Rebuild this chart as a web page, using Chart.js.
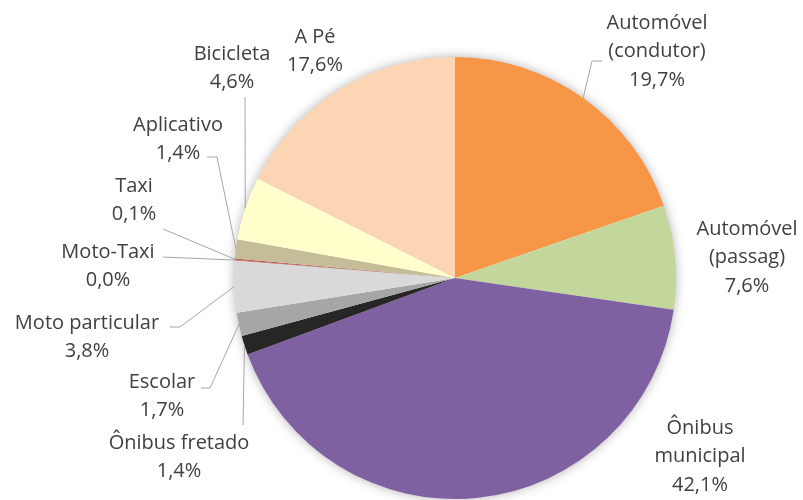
<!DOCTYPE html>
<html>
<head>
<meta charset="utf-8">
<script src="https://cdn.jsdelivr.net/npm/chart.js@4/dist/chart.umd.min.js"></script>
<style>
  body { margin: 0; background: #fff; }
  #chart { display: block; }
</style>
</head>
<body>
<canvas id="chart" width="803" height="500"></canvas>
<script>
const categories = ["Automóvel\n(condutor)", "Automóvel\n(passag)", "Ônibus\nmunicipal", "Ônibus fretado", "Escolar",
  "Moto particular", "Moto-Taxi", "Taxi", "Aplicativo", "Bicicleta", "A Pé"];
const shares = [19.7, 7.6, 42.1, 1.4, 1.7, 3.8, 0.03, 0.1, 1.4, 4.6, 17.6];
const colors = ["#F79646", "#C3D69B", "#7F60A0", "#262626", "#A6A6A6", "#D9D9D9",
  "#953735", "#C0504D", "#C4BD97", "#FFFFCC", "#FCD5B5"];

// label placement: centre x and first line y, plus leader line points near the label
const labelAt = [[657, 23], [747, 229], [700, 428], [179, 443], [162, 382], [87, 323],
  [108, 252], [134, 186], [178, 125], [232, 54], [315, 37]];
const leaders = [
  [[602, 61], [592, 61]], null, null,
  [[243, 425]],
  [[201, 388], [210, 388]],
  [[170, 327], [180, 327]],
  [[163, 257]],
  [[163, 229]],
  [[207, 157], [217, 157]],
  [[245, 97]],
  null
];

const fmt = v => v.toFixed(1).replace(".", ",") + "%";

const pieShadow = {
  id: "pieShadow",
  beforeDatasetsDraw(chart) {
    const arc = chart.getDatasetMeta(0).data[0];
    const ctx = chart.ctx;
    ctx.save();
    ctx.shadowColor = "rgba(0,0,0,0.35)";
    ctx.shadowBlur = 12;
    ctx.fillStyle = "#fff";
    ctx.beginPath();
    ctx.arc(arc.x, arc.y, arc.outerRadius - 1, 0, Math.PI * 2);
    ctx.fill();
    ctx.restore();
  }
};

const pieLabels = {
  id: "pieLabels",
  afterDatasetsDraw(chart) {
    const ctx = chart.ctx;
    const arcs = chart.getDatasetMeta(0).data;
    ctx.save();
    ctx.font = "20px 'Open Sans'";
    ctx.fillStyle = "#404040";
    ctx.textAlign = "center";
    ctx.textBaseline = "middle";
    arcs.forEach((arc, i) => {
      const lines = categories[i].split("\n").concat(fmt(shares[i]));
      const [lx, ly] = labelAt[i];
      lines.forEach((t, k) => ctx.fillText(t, lx, ly + k * 28.5));
      if (leaders[i]) {
        const mid = (arc.startAngle + arc.endAngle) / 2;
        const ex = arc.x + Math.cos(mid) * arc.outerRadius;
        const ey = arc.y + Math.sin(mid) * arc.outerRadius;
        ctx.strokeStyle = "#A6A6A6";
        ctx.lineWidth = 1;
        ctx.beginPath();
        leaders[i].forEach((p, k) => k ? ctx.lineTo(p[0], p[1]) : ctx.moveTo(p[0], p[1]));
        ctx.lineTo(ex, ey);
        ctx.stroke();
      }
    });
    ctx.restore();
  }
};

new Chart(document.getElementById("chart"), {
  type: "pie",
  data: {
    labels: categories,
    datasets: [{
      data: shares,
      backgroundColor: colors,
      borderWidth: 0
    }]
  },
  options: {
    responsive: false,
    animation: false,
    events: [],
    layout: { padding: { left: 234, right: 127, top: 57, bottom: 1 } },
    plugins: {
      legend: { display: false },
      tooltip: { enabled: false }
    }
  },
  plugins: [pieShadow, pieLabels]
});
</script>
</body>
</html>
